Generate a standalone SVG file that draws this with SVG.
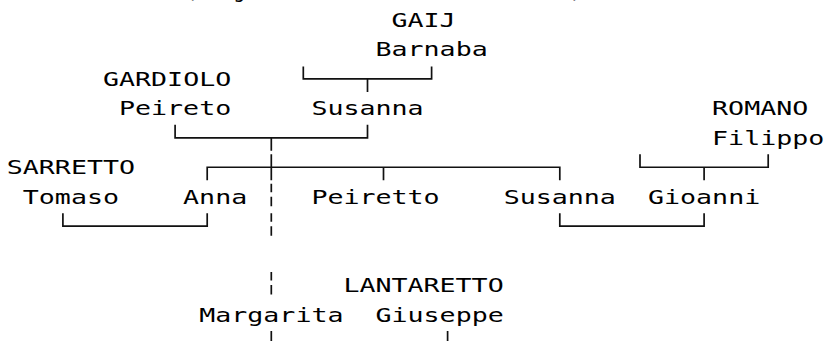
<svg xmlns="http://www.w3.org/2000/svg" width="825" height="341" viewBox="0 0 825 341">
  <style>
    .t { font-family: "DejaVu Sans Mono", "Liberation Mono", monospace; font-size: 20px; fill: #000; }
    .c { fill: none; stroke: #111; stroke-width: 1.7; }
    .d { fill: none; stroke: #111; stroke-width: 1.7; stroke-dasharray: 8.5 4.5 9.5 6.95; }
  </style>
  <rect width="825" height="341" fill="#fff"/>

  <g id="title-fragment">
    <text class="t" y="-2.45" text-anchor="middle"><tspan x="191.1">(</tspan><tspan x="239.2">g</tspan><tspan x="575.9">)</tspan></text>
  </g>

  <g id="connectors">
    <!-- GAIJ Barnaba couple -> Susanna -->
    <path class="c" d="M303.3,66.4 V78.9 H431.6 V66.4 M367.5,78.9 V91.9"/>
    <!-- GARDIOLO Peireto + Susanna -->
    <path class="c" d="M175.1,124.8 V137.8 H367.5 V124.8 M271.3,137.8 V150.8"/>
    <!-- children line -->
    <path class="c" d="M207.2,180.25 V167.25 H559.8 V180.25 M383.5,167.25 V180.25 M271.3,154.25 V180.25"/>
    <!-- ROMANO Filippo -> Gioanni -->
    <path class="c" d="M640,154.25 V167.25 H768.2 V154.25 M704.1,167.25 V180.25"/>
    <!-- Tomaso + Anna -->
    <path class="c" d="M62.9,213.2 V226.2 H207.2 V213.2"/>
    <!-- Susanna + Gioanni -->
    <path class="c" d="M559.8,213.2 V226.2 H704.1 V213.2"/>
    <!-- dashed descent to Margarita -->
    <path class="d" d="M271.3,183.7 V239.2"/>
    <path class="d" d="M271.3,272.05 V298.05"/>
    <!-- ticks below Margarita and Giuseppe -->
    <path class="c" d="M271.3,331 V345 M447.6,331 V345"/>
  </g>

  <g id="gaij-barnaba">
    <text class="t" x="391.5" y="27" textLength="64.1" lengthAdjust="spacingAndGlyphs">GAIJ</text>
    <text class="t" x="375.5" y="56.45" textLength="112.2" lengthAdjust="spacingAndGlyphs">Barnaba</text>
  </g>
  <g id="gardiolo-peireto">
    <text class="t" x="103" y="85.9" textLength="128.2" lengthAdjust="spacingAndGlyphs">GARDIOLO</text>
    <text class="t" x="119" y="115.35" textLength="112.2" lengthAdjust="spacingAndGlyphs">Peireto</text>
  </g>
  <g id="susanna-gaij">
    <text class="t" x="311.4" y="115.35" textLength="112.2" lengthAdjust="spacingAndGlyphs">Susanna</text>
  </g>
  <g id="romano-filippo">
    <text class="t" x="712.1" y="115.35" textLength="96.2" lengthAdjust="spacingAndGlyphs">ROMANO</text>
    <text class="t" x="712.1" y="144.8" textLength="112.2" lengthAdjust="spacingAndGlyphs">Filippo</text>
  </g>
  <g id="sarretto-tomaso">
    <text class="t" x="6.8" y="174.25" textLength="128.2" lengthAdjust="spacingAndGlyphs">SARRETTO</text>
    <text class="t" x="22.8" y="203.7" textLength="96.2" lengthAdjust="spacingAndGlyphs">Tomaso</text>
  </g>
  <g id="anna">
    <text class="t" x="183.1" y="203.7" textLength="64.1" lengthAdjust="spacingAndGlyphs">Anna</text>
  </g>
  <g id="peiretto">
    <text class="t" x="311.4" y="203.7" textLength="128.2" lengthAdjust="spacingAndGlyphs">Peiretto</text>
  </g>
  <g id="susanna-gardiolo">
    <text class="t" x="503.7" y="203.7" textLength="112.2" lengthAdjust="spacingAndGlyphs">Susanna</text>
  </g>
  <g id="gioanni-romano">
    <text class="t" x="648" y="203.7" textLength="112.2" lengthAdjust="spacingAndGlyphs">Gioanni</text>
  </g>
  <g id="margarita">
    <text class="t" x="199.2" y="321.5" textLength="144.3" lengthAdjust="spacingAndGlyphs">Margarita</text>
  </g>
  <g id="lantaretto-giuseppe">
    <text class="t" x="343.4" y="292.05" textLength="160.3" lengthAdjust="spacingAndGlyphs">LANTARETTO</text>
    <text class="t" x="375.5" y="321.5" textLength="128.2" lengthAdjust="spacingAndGlyphs">Giuseppe</text>
  </g>
</svg>
